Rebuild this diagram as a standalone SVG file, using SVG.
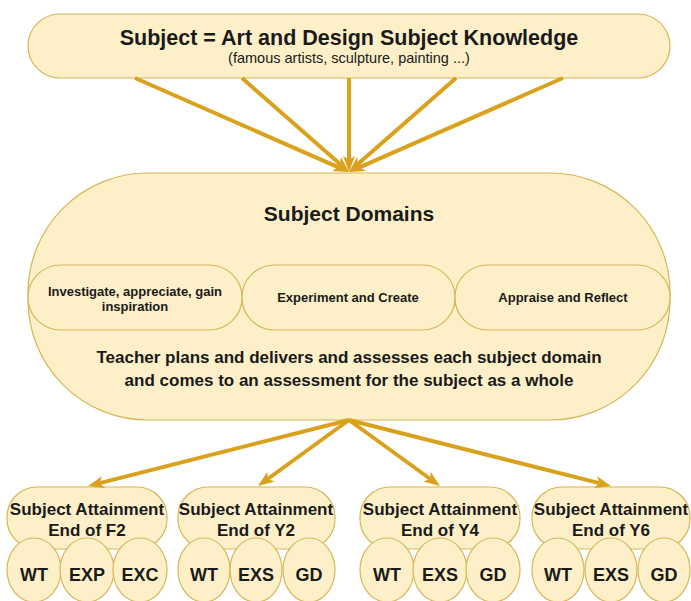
<svg xmlns="http://www.w3.org/2000/svg" width="691" height="601" viewBox="0 0 691 601">
  <defs>
    <style>
      .box { fill: #fdf0c9; stroke: #d6b656; stroke-width: 1.2; }
      .t { font-family: "Liberation Sans", Arial, sans-serif; font-weight: bold; fill: #1a1a1a; text-anchor: middle; }
      .sub { font-family: "Liberation Sans", Arial, sans-serif; fill: #1a1a1a; text-anchor: middle; }
      .edge { stroke: #d9a11c; stroke-width: 4; fill: none; marker-end: url(#arrow); }
    </style>
    <marker id="arrow" markerUnits="userSpaceOnUse" markerWidth="16" markerHeight="12" refX="4" refY="6" orient="auto">
      <path d="M0,0 L16,6 L0,12 L4,6 Z" fill="#d9a11c"/>
    </marker>
  </defs>

  <rect width="691" height="601" fill="#ffffff"/>

  <!-- top subject node -->
  <g id="subject">
    <rect class="box" x="28" y="14" width="642" height="64" rx="32" ry="32"/>
    <text class="t" x="349" y="45" font-size="21.5">Subject = Art and Design Subject Knowledge</text>
    <text class="sub" x="349" y="63" font-size="14.5">(famous artists, sculpture, painting ...)</text>
  </g>

  <!-- domains container -->
  <g id="domains">
    <rect class="box" x="28" y="173" width="642" height="247" rx="120" ry="120"/>
    <text class="t" x="349" y="221" font-size="21">Subject Domains</text>
    <text class="t" x="349" y="363" font-size="17">Teacher plans and delivers and assesses each subject domain</text>
    <text class="t" x="349" y="386" font-size="17">and comes to an assessment for the subject as a whole</text>
  </g>
  <g id="domain-investigate">
    <rect class="box" x="28" y="265" width="214" height="65" rx="33" ry="32"/>
    <text class="t" x="135" y="296" font-size="13">Investigate, appreciate, gain</text>
    <text class="t" x="135" y="311" font-size="13">inspiration</text>
  </g>
  <g id="domain-experiment">
    <rect class="box" x="242" y="265" width="213" height="65" rx="33" ry="32"/>
    <text class="t" x="348" y="302" font-size="13">Experiment and Create</text>
  </g>
  <g id="domain-appraise">
    <rect class="box" x="455" y="265" width="215" height="65" rx="33" ry="32"/>
    <text class="t" x="563" y="302" font-size="13">Appraise and Reflect</text>
  </g>

  <!-- attainment nodes -->
  <g id="attain-f2">
    <rect class="box" x="7" y="487" width="160" height="62" rx="30" ry="30"/>
    <text class="t" x="87" y="515" font-size="17">Subject Attainment</text>
    <text class="t" x="87" y="536" font-size="17">End of F2</text>
    <ellipse class="box" cx="34" cy="570" rx="27" ry="32"/>
    <ellipse class="box" cx="87" cy="570" rx="27" ry="32"/>
    <ellipse class="box" cx="140" cy="570" rx="27" ry="32"/>
    <text class="t" x="34" y="581" font-size="18">WT</text>
    <text class="t" x="87" y="581" font-size="18">EXP</text>
    <text class="t" x="140" y="581" font-size="18">EXC</text>
  </g>
  <g id="attain-y2">
    <rect class="box" x="178" y="487" width="157" height="62" rx="30" ry="30"/>
    <text class="t" x="256" y="515" font-size="17">Subject Attainment</text>
    <text class="t" x="256" y="536" font-size="17">End of Y2</text>
    <ellipse class="box" cx="204" cy="570" rx="26" ry="32"/>
    <ellipse class="box" cx="256" cy="570" rx="26" ry="32"/>
    <ellipse class="box" cx="309" cy="570" rx="26" ry="32"/>
    <text class="t" x="204" y="581" font-size="18">WT</text>
    <text class="t" x="256" y="581" font-size="18">EXS</text>
    <text class="t" x="309" y="581" font-size="18">GD</text>
  </g>
  <g id="attain-y4">
    <rect class="box" x="360" y="487" width="160" height="62" rx="30" ry="30"/>
    <text class="t" x="440" y="515" font-size="17">Subject Attainment</text>
    <text class="t" x="440" y="536" font-size="17">End of Y4</text>
    <ellipse class="box" cx="387" cy="570" rx="27" ry="32"/>
    <ellipse class="box" cx="440" cy="570" rx="27" ry="32"/>
    <ellipse class="box" cx="493" cy="570" rx="27" ry="32"/>
    <text class="t" x="387" y="581" font-size="18">WT</text>
    <text class="t" x="440" y="581" font-size="18">EXS</text>
    <text class="t" x="493" y="581" font-size="18">GD</text>
  </g>
  <g id="attain-y6">
    <rect class="box" x="532" y="487" width="158" height="62" rx="30" ry="30"/>
    <text class="t" x="611" y="515" font-size="17">Subject Attainment</text>
    <text class="t" x="611" y="536" font-size="17">End of Y6</text>
    <ellipse class="box" cx="558" cy="570" rx="26" ry="32"/>
    <ellipse class="box" cx="611" cy="570" rx="26" ry="32"/>
    <ellipse class="box" cx="664" cy="570" rx="26" ry="32"/>
    <text class="t" x="558" y="581" font-size="18">WT</text>
    <text class="t" x="611" y="581" font-size="18">EXS</text>
    <text class="t" x="664" y="581" font-size="18">GD</text>
  </g>

  <!-- connectors -->
  <g id="connectors">
    <line class="edge" x1="135" y1="78" x2="338.0" y2="167.2"/>
    <line class="edge" x1="242" y1="78" x2="340.0" y2="164.1"/>
    <line class="edge" x1="349" y1="78" x2="349" y2="160"/>
    <line class="edge" x1="456" y1="78" x2="358.0" y2="164.1"/>
    <line class="edge" x1="563" y1="78" x2="360.0" y2="167.2"/>
    <line class="edge" x1="349" y1="420" x2="99.6" y2="483.1"/>
    <line class="edge" x1="349" y1="420" x2="267.7" y2="479.0"/>
    <line class="edge" x1="349" y1="420" x2="430.3" y2="479.0"/>
    <line class="edge" x1="349" y1="420" x2="599.4" y2="483.1"/>
  </g>
</svg>
